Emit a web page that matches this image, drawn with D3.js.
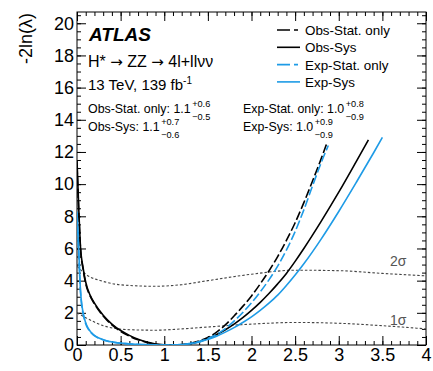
<!DOCTYPE html>
<html>
<head>
<meta charset="utf-8">
<script src="https://cdn.jsdelivr.net/npm/d3@7"></script>
<style>
  body { margin: 0; background: #fff; }
  text { font-family: "Liberation Sans", Arial, sans-serif; }
</style>
</head>
<body>
<div id="chart"></div>
<script>
// chart size
var svgWidth = 433;
var svgHeight = 371;

var margin = { top: 12, right: 7, bottom: 26, left: 77 };
var width = svgWidth - margin.left - margin.right;
var height = svgHeight - margin.top - margin.bottom;

// curves: [x, -2ln(lambda)]
var obsStat = [[0, 11.2], [0.02, 8.3], [0.04, 6.0], [0.07, 4.7], [0.1, 3.8], [0.15, 3.05], [0.2, 2.55], [0.3, 1.8],
  [0.4, 1.25], [0.5, 0.85], [0.6, 0.55], [0.7, 0.32], [0.8, 0.16], [0.9, 0.05], [1.0, 0.01], [1.1, 0], [1.2, 0.03],
  [1.3, 0.1], [1.4, 0.25], [1.5, 0.47], [1.6, 0.8], [1.7, 1.25], [1.8, 1.8], [1.9, 2.4], [2.0, 3.05], [2.1, 3.8],
  [2.2, 4.6], [2.3, 5.5], [2.4, 6.5], [2.5, 7.6], [2.6, 8.85], [2.7, 10.2], [2.8, 11.6], [2.87, 12.65]];
var obsSys = [[0, 11.5], [0.02, 8.5], [0.04, 6.1], [0.07, 4.8], [0.1, 3.9], [0.15, 3.1], [0.2, 2.6], [0.3, 1.85],
  [0.4, 1.3], [0.5, 0.9], [0.6, 0.6], [0.7, 0.36], [0.8, 0.18], [0.9, 0.06], [1.0, 0.01], [1.1, 0], [1.2, 0.02],
  [1.3, 0.08], [1.4, 0.2], [1.5, 0.4], [1.6, 0.65], [1.7, 0.95], [1.8, 1.3], [1.9, 1.7], [2.0, 2.15], [2.1, 2.65],
  [2.2, 3.2], [2.3, 3.8], [2.4, 4.45], [2.5, 5.2], [2.6, 6.0], [2.8, 7.7], [3.0, 9.5], [3.2, 11.4], [3.34, 12.75]];
var expStat = [[0, 8.1], [0.02, 5.7], [0.04, 3.3], [0.08, 1.7], [0.155, 0.8], [0.31, 0.3], [0.5, 0.11], [0.7, 0.035],
  [0.9, 0.005], [1.0, 0], [1.1, 0.006], [1.2, 0.035], [1.3, 0.1], [1.4, 0.22], [1.5, 0.4], [1.6, 0.66], [1.7, 1.02],
  [1.8, 1.48], [1.9, 2.02], [2.0, 2.62], [2.1, 3.3], [2.2, 4.05], [2.3, 4.9], [2.4, 5.9], [2.5, 7.05], [2.6, 8.4],
  [2.7, 9.9], [2.8, 11.35], [2.88, 12.4]];
var expSys = [[0, 8.3], [0.02, 5.9], [0.04, 3.4], [0.08, 1.76], [0.155, 0.83], [0.31, 0.31], [0.5, 0.12], [0.7, 0.04],
  [0.9, 0.005], [1.0, 0], [1.1, 0.005], [1.2, 0.03], [1.3, 0.08], [1.4, 0.18], [1.5, 0.35], [1.6, 0.55], [1.7, 0.8],
  [1.8, 1.08], [1.9, 1.4], [2.0, 1.75], [2.1, 2.15], [2.2, 2.6], [2.3, 3.1], [2.4, 3.7], [2.5, 4.35], [2.6, 5.05],
  [2.8, 6.6], [3.0, 8.3], [3.2, 10.1], [3.4, 11.95], [3.5, 12.9]];

// dotted thresholds
var twoSigma = [[0, 4.9], [0.1, 4.4], [0.3, 3.95], [0.6, 3.7], [0.9, 3.65], [1.2, 3.75], [1.5, 4.0], [2.0, 4.4],
  [2.5, 4.65], [3.0, 4.62], [3.5, 4.45], [4.0, 4.3]];
var oneSigma = [[0, 2.0], [0.1, 1.7], [0.3, 1.2], [0.6, 0.95], [0.9, 0.92], [1.2, 1.0], [1.5, 1.12], [2.0, 1.3],
  [2.5, 1.4], [3.0, 1.35], [3.5, 1.2], [4.0, 1.0]];

var xTicks = [0, 0.5, 1, 1.5, 2, 2.5, 3, 3.5, 4];
var yTicks = [0, 2, 4, 6, 8, 10, 12, 14, 16, 18, 20];

var legendNames = ["Obs-Stat. only", "Obs-Sys", "Exp-Stat. only", "Exp-Sys"];
var blue = "#1e9be6";

var svg = d3.select("#chart")
  .append("svg")
  .attr("width", svgWidth)
  .attr("height", svgHeight);

var chartGroup = svg.append("g")
  .attr("transform", `translate(${margin.left}, ${margin.top})`);

var x = d3.scaleLinear().domain([0, 4]).range([0, width]);
var y = d3.scaleLinear().domain([0, 20.7]).range([height, 0]);

// clip for the curves
svg.append("defs").append("clipPath").attr("id", "plotClip")
  .append("rect").attr("width", width).attr("height", height);

// axes: major and minor ticks on all four sides
function tickAxis(axisFn, scale, values, size) {
  return axisFn(scale).tickValues(values).tickSize(size).tickFormat("");
}
var xMinor = d3.range(0, 4.001, 0.1);
var yMinor = d3.range(0, 20.7, 0.5);

var bottomAxis = chartGroup.append("g").attr("transform", `translate(0, ${height})`);
bottomAxis.append("g").call(tickAxis(d3.axisTop, x, xMinor, 4));
bottomAxis.append("g").call(tickAxis(d3.axisTop, x, xTicks, 9));
bottomAxis.append("g").attr("class", "xlabels")
  .call(d3.axisBottom(x).tickValues(xTicks).tickSize(0).tickPadding(3).tickFormat(d3.format("~g")));

var topAxis = chartGroup.append("g");
topAxis.append("g").call(tickAxis(d3.axisBottom, x, xMinor, 4));
topAxis.append("g").call(tickAxis(d3.axisBottom, x, xTicks, 9));

var leftAxis = chartGroup.append("g");
leftAxis.append("g").call(tickAxis(d3.axisRight, y, yMinor, 4));
leftAxis.append("g").call(tickAxis(d3.axisRight, y, yTicks, 9));
leftAxis.append("g").call(d3.axisLeft(y).tickValues(yTicks).tickSize(0).tickPadding(3));

var rightAxis = chartGroup.append("g").attr("transform", `translate(${width}, 0)`);
rightAxis.append("g").call(tickAxis(d3.axisLeft, y, yMinor, 4));
rightAxis.append("g").call(tickAxis(d3.axisLeft, y, yTicks, 9));

chartGroup.selectAll(".domain").remove();
chartGroup.selectAll(".tick line").attr("stroke", "#000");
chartGroup.selectAll(".tick text").attr("font-size", 18).attr("fill", "#000")
  .attr("font-family", "'Liberation Sans', Arial, sans-serif");

chartGroup.append("rect")
  .attr("width", width).attr("height", height)
  .attr("fill", "none").attr("stroke", "#000").attr("stroke-width", 1);

// y axis title
svg.append("text")
  .attr("transform", `translate(32, 13) rotate(-90)`)
  .attr("text-anchor", "end")
  .attr("font-size", 18)
  .text("-2ln(λ)");

// curves
var line = d3.line().x(d => x(d[0])).y(d => y(d[1])).curve(d3.curveMonotoneX);
var curves = chartGroup.append("g").attr("clip-path", "url(#plotClip)");

curves.append("path").datum(twoSigma).attr("d", line)
  .attr("fill", "none").attr("stroke", "#444").attr("stroke-width", 1.1).attr("stroke-dasharray", "2.5,2");
curves.append("path").datum(oneSigma).attr("d", line)
  .attr("fill", "none").attr("stroke", "#444").attr("stroke-width", 1.1).attr("stroke-dasharray", "2.5,2");

var series = [
  { data: obsStat, color: "#000", dash: "9,3" },
  { data: obsSys, color: "#000", dash: null },
  { data: expStat, color: blue, dash: "9,3" },
  { data: expSys, color: blue, dash: null }
];
series.forEach(function (s) {
  curves.append("path").datum(s.data).attr("d", line)
    .attr("fill", "none").attr("stroke", s.color).attr("stroke-width", 1.6)
    .attr("stroke-dasharray", s.dash);
});

// sigma labels
svg.append("text").attr("x", 390).attr("y", 266).attr("font-size", 14).attr("fill", "#555").text("2σ");
svg.append("text").attr("x", 390).attr("y", 325).attr("font-size", 14).attr("fill", "#555").text("1σ");

// legend
var legend = svg.append("g");
series.forEach(function (s, i) {
  var ly = 30 + i * 17.3;
  legend.append("line").attr("x1", 277).attr("x2", 300).attr("y1", ly).attr("y2", ly)
    .attr("stroke", s.color).attr("stroke-width", 1.6).attr("stroke-dasharray", s.dash ? "13,4,4,2" : null);
  legend.append("text").attr("x", 305).attr("y", ly + 5).attr("font-size", 13.4).text(legendNames[i]);
});

// labels
svg.append("text").attr("x", 89).attr("y", 41).attr("font-size", 19)
  .attr("font-weight", "bold").attr("font-style", "italic").text("ATLAS");
var proc = svg.append("text").attr("x", 88).attr("y", 67).attr("font-size", 16);
proc.append("tspan").text("H* ");
proc.append("tspan").attr("font-family", "'DejaVu Sans', sans-serif").attr("font-size", 15).text("→");
proc.append("tspan").text(" ZZ ");
proc.append("tspan").attr("font-family", "'DejaVu Sans', sans-serif").attr("font-size", 15).text("→");
proc.append("tspan").text(" 4l+llνν");
var lumi = svg.append("text").attr("x", 88).attr("y", 90).attr("font-size", 15);
lumi.append("tspan").text("13 TeV, 139 fb");
lumi.append("tspan").attr("dy", -6).attr("font-size", 10).text("-1");

function resultLabel(px, py, label, up, down) {
  var t = svg.append("text").attr("x", px).attr("y", py).attr("font-size", 12.4).text(label);
  var w = t.node().getComputedTextLength();
  svg.append("text").attr("x", px + w + 1.5).attr("y", py - 6).attr("font-size", 9.2).text(up);
  svg.append("text").attr("x", px + w + 1.5).attr("y", py + 7).attr("font-size", 9.2).text(down);
}
resultLabel(88, 113, "Obs-Stat. only: 1.1", "+0.6", "\u22120.5");
resultLabel(88, 131, "Obs-Sys: 1.1", "+0.7", "\u22120.6");
resultLabel(243, 113, "Exp-Stat. only: 1.0", "+0.8", "\u22120.9");
resultLabel(243, 131, "Exp-Sys: 1.0", "+0.9", "\u22120.9");
</script>
</body>
</html>
